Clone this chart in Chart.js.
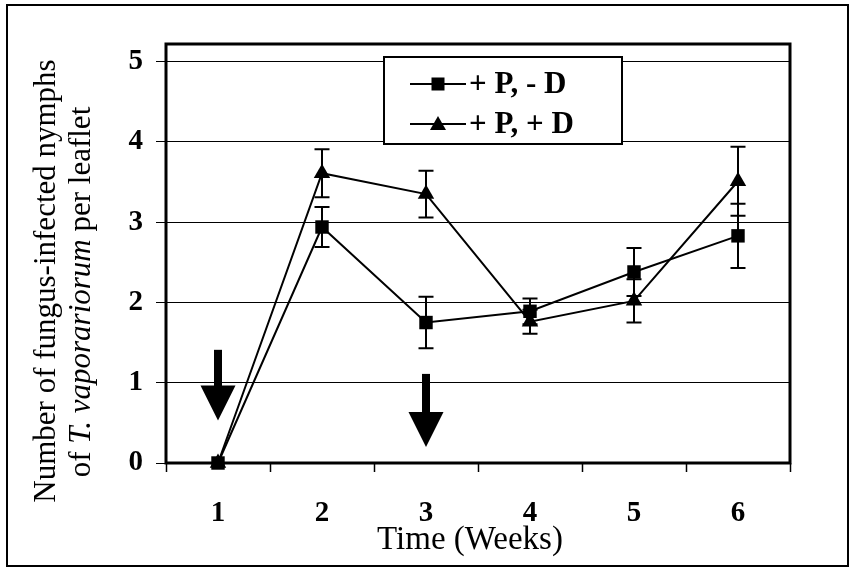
<!DOCTYPE html>
<html>
<head>
<meta charset="utf-8">
<script src="https://cdn.jsdelivr.net/npm/chart.js@4"></script>
<style>
  body { margin: 0; background: #fff; }
  canvas { display: block; }
</style>
</head>
<body>
<canvas id="fungusChart" width="853" height="575"></canvas>
<script>
var weeks = ['1', '2', '3', '4', '5', '6'];
var yTicks = [0, 1, 2, 3, 4, 5];
var labelNoD = '+ P, - D';
var labelPlusD = '+ P, + D';
var meanNoD = [0, 2.94, 1.75, 1.89, 2.38, 2.83];
var errNoD = [0, 0.25, 0.32, 0.16, 0.3, 0.4];
var meanPlusD = [0, 3.61, 3.35, 1.76, 2.02, 3.51];
var errPlusD = [0, 0.3, 0.29, 0.15, 0.27, 0.43];
// arrows: week, value where the shaft starts, value of the tip
var arrowWeeks = ['1', '3'];
var arrowTop = [1.41, 1.11];
var arrowTip = [0.53, 0.2];

var serif = "'Liberation Serif', 'Times New Roman', serif";

var figurePlugin = {
    id: 'figure',
    beforeDraw: function(chart) {
        var ctx = chart.ctx;
        ctx.save();
        ctx.fillStyle = '#fff';
        ctx.fillRect(0, 0, chart.width, chart.height);
        ctx.restore();
    },
    beforeDatasetsDraw: function(chart) {
        var ctx = chart.ctx;
        var a = chart.chartArea;
        var xs = chart.scales.x, ys = chart.scales.y;
        ctx.save();
        // plot frame
        ctx.strokeStyle = '#000';
        ctx.lineWidth = 3;
        ctx.strokeRect(a.left, a.top, a.right - a.left, a.bottom - a.top);
        // error bars
        var sets = [[meanNoD, errNoD], [meanPlusD, errPlusD]];
        ctx.lineWidth = 2;
        sets.forEach(function(s) {
            s[0].forEach(function(v, i) {
                if (!s[1][i]) return;
                var x = xs.getPixelForValue(i);
                var y1 = ys.getPixelForValue(v + s[1][i]);
                var y2 = ys.getPixelForValue(v - s[1][i]);
                ctx.beginPath();
                ctx.moveTo(x, y1); ctx.lineTo(x, y2);
                ctx.moveTo(x - 7.5, y1); ctx.lineTo(x + 7.5, y1);
                ctx.moveTo(x - 7.5, y2); ctx.lineTo(x + 7.5, y2);
                ctx.stroke();
            });
        });
        // arrows
        ctx.fillStyle = '#000';
        arrowWeeks.forEach(function(w, i) {
            var x = xs.getPixelForValue(weeks.indexOf(w));
            var yTop = ys.getPixelForValue(arrowTop[i]);
            var yTip = ys.getPixelForValue(arrowTip[i]);
            var yBase = yTip - 35;
            ctx.fillRect(x - 4, yTop, 8, yBase - yTop + 1);
            ctx.beginPath();
            ctx.moveTo(x - 17.5, yBase);
            ctx.lineTo(x + 17.5, yBase);
            ctx.lineTo(x, yTip);
            ctx.closePath();
            ctx.fill();
        });
        ctx.restore();
    },
    afterDraw: function(chart) {
        var ctx = chart.ctx;
        var a = chart.chartArea;
        ctx.save();
        // outer border
        ctx.strokeStyle = '#000';
        ctx.lineWidth = 2;
        ctx.strokeRect(7, 5, 841, 561);

        // legend
        var lx = 384, ly = 57, lw = 238, lh = 87;
        ctx.fillStyle = '#fff';
        ctx.fillRect(lx, ly, lw, lh);
        ctx.lineWidth = 2;
        ctx.strokeRect(lx, ly, lw, lh);
        chart.data.datasets.forEach(function(ds, i) {
            var cy = ly + 27 + i * 40;
            ctx.strokeStyle = '#000';
            ctx.lineWidth = 2;
            ctx.beginPath();
            ctx.moveTo(lx + 26, cy);
            ctx.lineTo(lx + 82, cy);
            ctx.stroke();
            ctx.fillStyle = '#000';
            if (ds.pointStyle === 'rect') {
                ctx.fillRect(lx + 54 - 6.5, cy - 6.5, 13, 13);
            } else {
                ctx.beginPath();
                ctx.moveTo(lx + 54, cy - 8);
                ctx.lineTo(lx + 62, cy + 6);
                ctx.lineTo(lx + 46, cy + 6);
                ctx.closePath();
                ctx.fill();
            }
            ctx.font = 'bold 31px ' + serif;
            ctx.textAlign = 'left';
            ctx.textBaseline = 'middle';
            ctx.fillText(ds.label, lx + 85, cy + 1);
        });

        // x title
        ctx.fillStyle = '#000';
        ctx.font = '33px ' + serif;
        ctx.textAlign = 'center';
        ctx.textBaseline = 'middle';
        ctx.fillText('Time (Weeks)', (a.left + a.right) / 2 - 8, 540);

        // y title, two lines, species name in italics
        ctx.textBaseline = 'alphabetic';
        ctx.rotate(-Math.PI / 2);
        ctx.font = '31px ' + serif;
        ctx.fillText('Number of fungus-infected nymphs', -281, 55);
        var parts = [['of ', ''], ['T. vaporariorum', 'italic '], [' per leaflet', '']];
        var total = 0;
        parts.forEach(function(p) {
            ctx.font = p[1] + '31px ' + serif;
            total += ctx.measureText(p[0]).width;
        });
        var px = -292 - total / 2;
        ctx.textAlign = 'left';
        parts.forEach(function(p) {
            ctx.font = p[1] + '31px ' + serif;
            ctx.fillText(p[0], px, 90);
            px += ctx.measureText(p[0]).width;
        });
        ctx.restore();
    }
};

var ctx = document.getElementById('fungusChart').getContext('2d');
var myChart = new Chart(ctx, {
    type: 'line',
    data: {
        labels: weeks,
        datasets: [{
            label: labelNoD,
            data: meanNoD,
            borderColor: '#000',
            backgroundColor: '#000',
            borderWidth: 2,
            pointStyle: 'rect',
            pointRadius: 9.5,
            pointBorderWidth: 0,
            tension: 0,
            clip: false
        }, {
            label: labelPlusD,
            data: meanPlusD,
            borderColor: '#000',
            backgroundColor: '#000',
            borderWidth: 2,
            pointStyle: 'triangle',
            pointRadius: 9.5,
            pointBorderWidth: 0,
            tension: 0,
            clip: false
        }]
    },
    options: {
        responsive: false,
        animation: false,
        events: [],
        layout: { padding: { top: 44, right: 63, left: 0, bottom: 0 } },
        plugins: {
            legend: { display: false },
            tooltip: { enabled: false }
        },
        scales: {
            x: {
                type: 'category',
                offset: true,
                grid: {
                    offset: true,
                    drawOnChartArea: false,
                    drawTicks: true,
                    tickLength: 9,
                    tickColor: '#000',
                    tickWidth: 1.5
                },
                border: { display: false },
                ticks: {
                    color: '#000',
                    padding: 24,
                    maxRotation: 0,
                    font: { family: serif, size: 29, weight: 'bold' }
                },
                afterFit: function(scale) { scale.height = 112; }
            },
            y: {
                min: 0,
                max: 5.22,
                grid: {
                    color: '#000',
                    lineWidth: 1,
                    drawTicks: true,
                    tickLength: 10,
                    tickColor: '#000'
                },
                border: { display: false },
                ticks: {
                    color: '#000',
                    padding: 13,
                    font: { family: serif, size: 29, weight: 'bold' }
                },
                afterBuildTicks: function(scale) {
                    scale.ticks = yTicks.map(function(v) { return { value: v }; });
                },
                afterFit: function(scale) { scale.width = 166; }
            }
        }
    },
    plugins: [figurePlugin]
});
</script>
</body>
</html>
